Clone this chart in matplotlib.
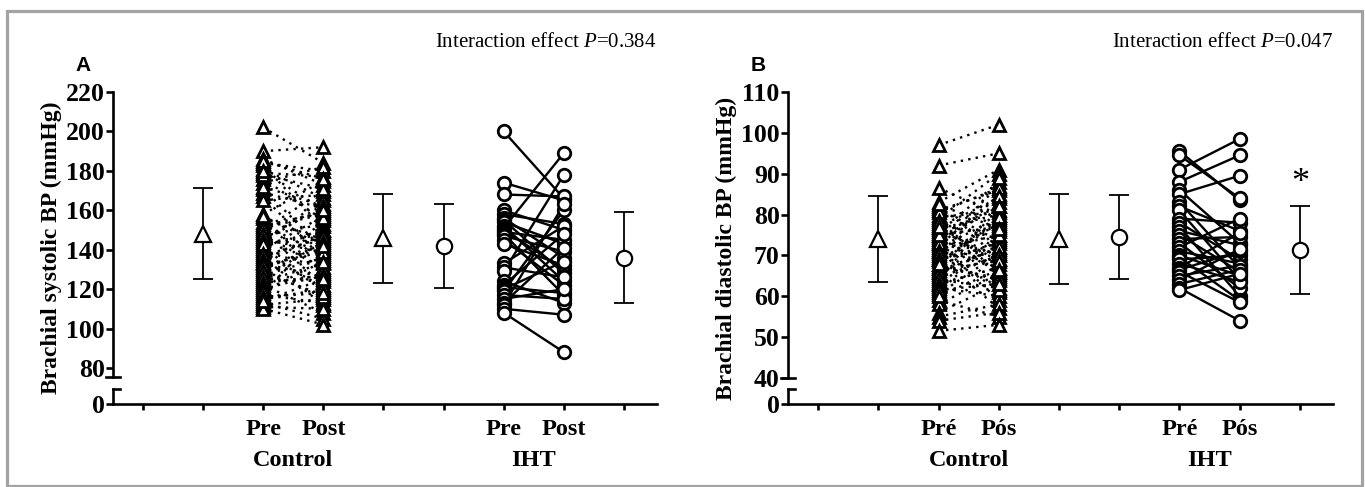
import matplotlib
matplotlib.use("Agg")
import matplotlib.pyplot as plt
from matplotlib.patches import Rectangle

plt.rcParams['font.family'] = ['Liberation Serif', 'DejaVu Serif']
plt.rcParams['mathtext.fontset'] = 'custom'
plt.rcParams['mathtext.rm'] = 'Liberation Serif'
plt.rcParams['mathtext.it'] = 'Liberation Serif:italic'

# Panel A - systolic BP (mmHg)
ctrl_sys_pre = [202, 190, 186, 184, 183, 181, 179, 176, 174, 171, 169, 167, 165, 158, 156,
                154, 152, 150, 149, 147, 146, 144, 142, 141, 140, 139, 137, 136, 134, 133,
                131, 130, 128, 127, 125, 124, 122, 120, 118, 117, 115, 113, 112, 111, 110,
                153, 151, 148, 145, 143, 138, 135, 132, 129, 126, 123, 121, 119, 116, 114,
                157, 172, 178, 185, 180]
ctrl_sys_post = [184, 192, 173, 180, 150, 166, 177, 155, 182, 140, 161, 135, 168, 175, 145,
                 129, 159, 170, 122, 153, 138, 163, 148, 119, 157, 131, 146, 112, 152, 126,
                 141, 143, 117, 136, 124, 133, 108, 128, 150, 113, 120, 105, 115, 110, 102,
                 137, 158, 130, 165, 149, 121, 147, 139, 116, 144, 127, 156, 134, 118, 125,
                 142, 162, 171, 176, 160]
iht_sys_pre = [200, 174, 168, 160, 158, 156, 155, 154, 152, 151, 150, 149, 148, 147, 145,
               143, 133, 131, 129, 124, 122, 121, 120, 119, 117, 115, 113, 112, 110, 108]
iht_sys_post = [166, 165, 167, 150, 153, 136, 128, 143, 124, 189, 130, 145, 117, 139, 122,
                132, 152, 126, 178, 113, 148, 118, 134, 160, 115, 120, 141, 163, 107, 88]
sys_mean = [148.2, 145.7, 141.9, 136.0]   # ctrl pre, ctrl post, iht pre, iht post
sys_sd = [23.1, 22.6, 21.3, 23.0]

# Panel B - diastolic BP (mmHg)
ctrl_dia_pre = [97, 92, 86.5, 83, 82, 81, 80, 79, 78, 77.5, 77, 76, 75.5, 75, 74,
                73.5, 73, 72, 71.5, 71, 70, 69.5, 69, 68, 67.5, 67, 66, 65.5, 65, 64,
                63.5, 63, 62, 61, 60.5, 59, 58, 56, 55, 54, 51.5, 79.5, 72.5, 68.5, 66.5,
                81.5, 80.5, 78.5, 76.5, 74.5, 73, 71, 70.5, 69, 67, 66, 64.5, 63, 62.5, 61.5,
                75, 77, 82.5, 60, 68]
ctrl_dia_post = [102, 95, 80, 91, 71, 86, 65, 90, 74, 61, 84, 70, 88, 77, 66,
                 82, 59, 79, 75, 68, 85, 57, 73, 78, 64, 81, 69, 72, 76, 62,
                 83, 67, 60, 74.5, 70.5, 55, 65.5, 63, 58, 56, 53, 80.5, 87, 78.5, 71.5,
                 73.5, 86.5, 66, 80, 69, 84.5, 61.5, 77.5, 72, 64.5, 79.5, 70, 67, 75, 63,
                 82, 68.5, 76.5, 66.5, 89]
iht_dia_pre = [95.5, 94.5, 91, 88, 86, 85, 83, 82, 81, 79, 78, 77, 76, 75, 74,
               73, 72, 71, 70, 69.5, 69, 68, 67, 66.5, 66, 65, 64, 63, 62, 61.5]
iht_dia_post = [83.5, 84, 98.5, 94.5, 73, 89.5, 67, 76, 64, 78, 69, 60, 72.5, 66, 74.5,
                62, 79, 68, 65, 59, 70, 63.5, 75.5, 71, 58.5, 67.5, 71.5, 66.5, 54, 65.5]
dia_mean = [74.0, 74.0, 74.5, 71.3]
dia_sd = [10.5, 11.0, 10.3, 10.8]

p_values = ["0.384", "0.047"]
time_labels = [["Pre", "Post"], ["Pré", "Pós"]]
groups = ["Control", "IHT"]
ylabels = ["Brachial systolic BP (mmHg)", "Brachial diastolic BP (mmHg)"]
yticks_list = [list(range(80, 221, 20)), list(range(40, 111, 10))]

fig = plt.figure(figsize=(13.65, 4.87), dpi=100)

# Grey frame around the whole figure
fig.add_artist(Rectangle((6.5 / 1365, 1.5 / 487), 1355.5 / 1365, 475 / 487,
                         transform=fig.transFigure, fill=False, ec='#a3a3a3', lw=2.3))

panels = [
    dict(left=113, right=657, ymin=61.7, ymax=220, brk_top=75.4, brk_bot=69.3,
         ctrl=(ctrl_sys_pre, ctrl_sys_post), iht=(iht_sys_pre, iht_sys_post),
         mean=sys_mean, sd=sys_sd, letter='A', star=False),
    dict(left=788, right=1333, ymin=33.6, ymax=110, brk_top=40, brk_bot=37.3,
         ctrl=(ctrl_dia_pre, ctrl_dia_post), iht=(iht_dia_pre, iht_dia_post),
         mean=dia_mean, sd=dia_sd, letter='B', star=True),
]

for k, p in enumerate(panels):
    ax = fig.add_axes([p['left'] / 1365, 1 - 404 / 487,
                       (p['right'] - p['left']) / 1365, (404 - 92) / 487])
    ax.set_xlim(0.5, 9.55)
    ax.set_ylim(p['ymin'], p['ymax'])

    # individual lines
    pre, post = p['ctrl']
    for a, b in zip(pre, post):
        ax.plot([3, 4], [a, b], color='black', lw=1.7, linestyle=(0, (1, 2.2)), zorder=2)
    pre2, post2 = p['iht']
    for a, b in zip(pre2, post2):
        ax.plot([7, 8], [a, b], color='black', lw=1.7, zorder=2)
    ax.plot([3] * len(pre), pre, '^', ms=9, mfc='white', mec='black', mew=2, ls='none', zorder=3)
    ax.plot([4] * len(post), post, '^', ms=9, mfc='white', mec='black', mew=2, ls='none', zorder=3)
    ax.plot([7] * len(pre2), pre2, 'o', ms=9, mfc='white', mec='black', mew=2, ls='none', zorder=3)
    ax.plot([8] * len(post2), post2, 'o', ms=9, mfc='white', mec='black', mew=2, ls='none', zorder=3)

    # mean +- SD
    xm = [2, 5, 6, 9]
    mk = ['^', '^', 'o', 'o']
    for x, m, s, mkr in zip(xm, p['mean'], p['sd'], mk):
        ax.errorbar(x, m, yerr=s, fmt='none', ecolor='black', elinewidth=1.3,
                    capsize=7, capthick=1.3, zorder=3)
        ax.plot(x, m, mkr, ms=11, mfc='white', mec='black', mew=1.6, zorder=4)
    if p['star']:
        ax.text(9, p['mean'][3] + p['sd'][3] + 5.5, '*', ha='center', va='center', fontsize=26)

    # axes styling with broken y axis
    for side in ['top', 'right']:
        ax.spines[side].set_visible(False)
    ax.spines['left'].set_linewidth(1.9)
    ax.spines['bottom'].set_linewidth(1.9)
    ax.spines['left'].set_bounds(p['brk_top'], p['ymax'])
    tr = ax.get_yaxis_transform()
    ax.plot([0, 0], [p['ymin'], p['brk_bot']], color='black', lw=1.9, transform=tr, clip_on=False)
    ax.plot([-0.013, 0.012], [p['brk_top'], p['brk_top']], color='black', lw=1.9,
            transform=tr, clip_on=False)
    ax.plot([0, 0.013], [p['brk_bot'], p['brk_bot']], color='black', lw=1.9,
            transform=tr, clip_on=False)

    yt = yticks_list[k]
    ax.set_yticks([p['ymin']] + yt)
    ax.set_yticklabels(['0'] + [str(v) for v in yt], fontsize=18.5, fontweight='bold')
    ax.tick_params(axis='y', direction='out', length=5, width=1.9, pad=1)

    ax.set_xticks(range(1, 10))
    xl = ['', '', time_labels[k][0], time_labels[k][1], '', '', time_labels[k][0], time_labels[k][1], '']
    ax.set_xticklabels(xl, fontsize=17.5, fontweight='bold')
    ax.tick_params(axis='x', direction='out', length=4, width=1.9, pad=7)
    xt = ax.get_xaxis_transform()
    ax.text(3.5, -0.18, groups[0], transform=xt, ha='center', va='center',
            fontsize=17.5, fontweight='bold')
    ax.text(7.5, -0.18, groups[1], transform=xt, ha='center', va='center',
            fontsize=17.5, fontweight='bold')

    ax.set_ylabel(ylabels[k], fontsize=17, fontweight='bold', labelpad=3)

    ax.text(1.0, 1.16, 'Interaction effect $P$=' + p_values[k], transform=ax.transAxes,
            ha='right', va='center', fontsize=15)
    ax.text(-0.055, 1.085, p['letter'], transform=ax.transAxes, ha='center', va='center',
            fontsize=15, fontweight='bold', family=['Liberation Sans', 'DejaVu Sans'])

fig.savefig('out.png', dpi=100)
